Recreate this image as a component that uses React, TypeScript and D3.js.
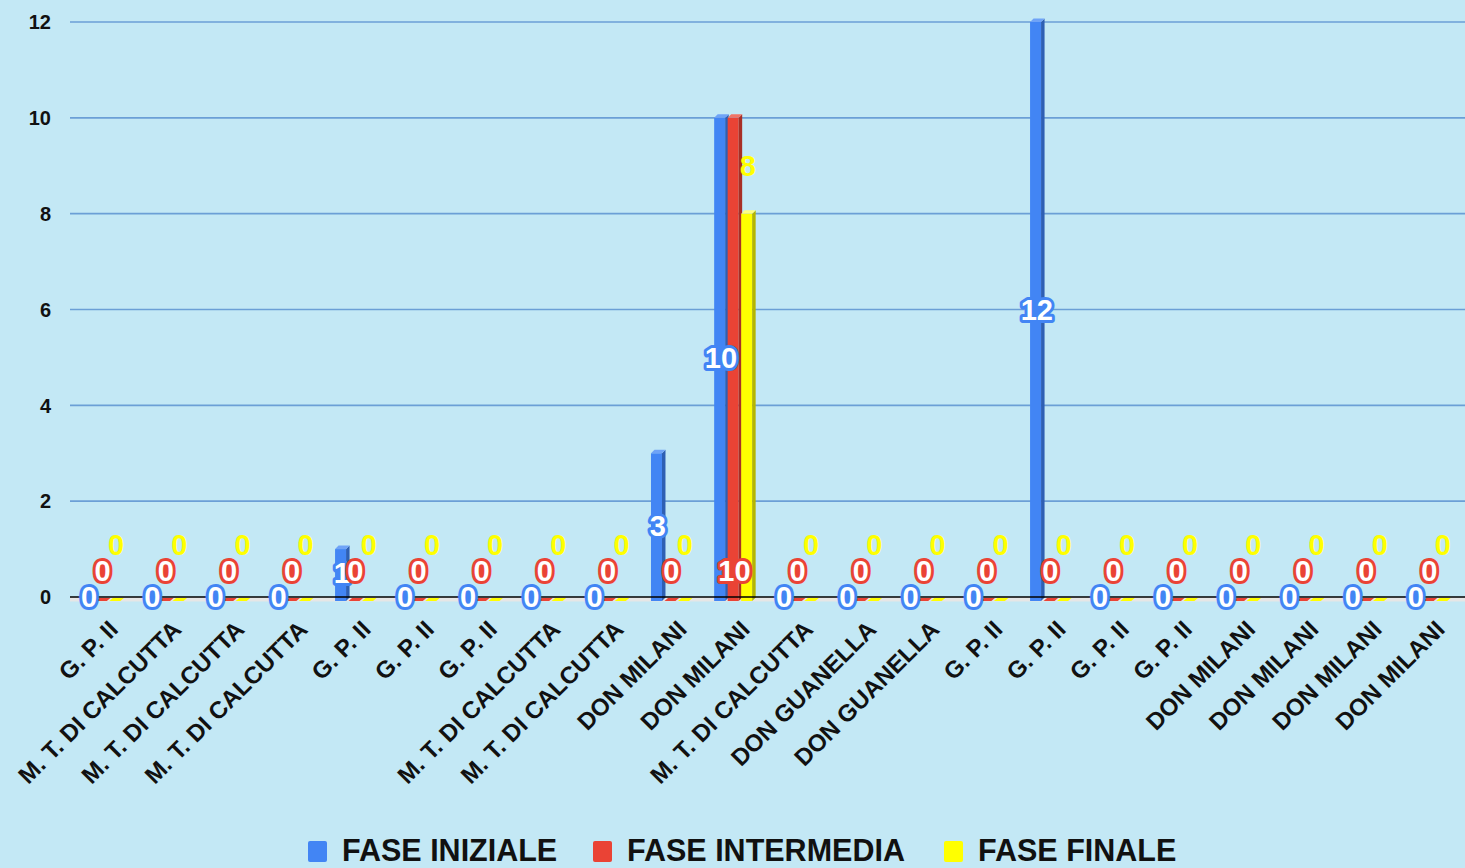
import React from "react";
import * as d3 from "d3";

const categories = [
  "G. P. II", "M. T. DI CALCUTTA", "M. T. DI CALCUTTA", "M. T. DI CALCUTTA",
  "G. P. II", "G. P. II", "G. P. II", "M. T. DI CALCUTTA", "M. T. DI CALCUTTA",
  "DON MILANI", "DON MILANI", "M. T. DI CALCUTTA", "DON GUANELLA", "DON GUANELLA",
  "G. P. II", "G. P. II", "G. P. II", "G. P. II", "DON MILANI", "DON MILANI",
  "DON MILANI", "DON MILANI",
];
const faseIniziale = [0, 0, 0, 0, 1, 0, 0, 0, 0, 3, 10, 0, 0, 0, 0, 12, 0, 0, 0, 0, 0, 0];
const faseIntermedia = [0, 0, 0, 0, 0, 0, 0, 0, 0, 0, 10, 0, 0, 0, 0, 0, 0, 0, 0, 0, 0, 0];
const faseFinale = [0, 0, 0, 0, 0, 0, 0, 0, 0, 0, 8, 0, 0, 0, 0, 0, 0, 0, 0, 0, 0, 0];
const seriesNames = ["FASE INIZIALE", "FASE INTERMEDIA", "FASE FINALE"];
const yTicks = [0, 2, 4, 6, 8, 10, 12];

const W = 1465, H = 868;
const left = 71, right = 1461, top = 22, bottom = 597;
const FONT = "'Liberation Sans', Arial, sans-serif";

const colors = [
  { front: "#4285f4", side: "#2e5fb3", top: "#6fa3f7", stroke: "#4285f4" },
  { front: "#ea4335", side: "#a82f25", top: "#f07466", stroke: "#ea4335" },
  { front: "#ffff00", side: "#b5b500", top: "#ffff80", stroke: "#ffff00" },
];

export default function App() {
  const x = d3.scaleBand<number>().domain(d3.range(categories.length)).range([left, right]).padding(0);
  const y = d3.scaleLinear().domain([0, 12]).range([bottom, top]);
  const series = [faseIniziale, faseIntermedia, faseFinale];
  const bw = 13.5;
  const barW = 11;
  const dx = 3.5, dy = 3.5;

  const labelPos = (s: number, v: number) => {
    if (s === 0) return v / 2;
    if (s === 1) return 0.55;
    return v === 0 ? 1.1 : v + 1;
  };

  return (
    <svg width={W} height={H} style={{ position: "absolute", left: 0, top: 0, display: "block" }}>
      <rect x={0} y={0} width={W} height={H} fill="#c3e8f5" />
      {yTicks.map((t) => (
        <g key={t}>
          {t !== 0 && <line x1={70} x2={W} y1={y(t)} y2={y(t)} stroke="#6b9fd6" strokeWidth={1.6} />}
          <text x={51} y={y(t)} dy="0.36em" textAnchor="end" fontFamily={FONT} fontWeight="bold" fontSize={20} fill="#111">
            {t}
          </text>
        </g>
      ))}
      {/* floor */}
      <rect x={70} y={bottom} width={W - 70} height={4.5} fill="#e6e6e6" />
      {series.map((vals, s) =>
        vals.map((v, i) => {
          const cx = (x(i) as number) + x.bandwidth() / 2 + (s - 1) * bw;
          const x0 = cx - bw / 2;
          const y0 = y(v);
          const c = colors[s];
          return (
            <g key={`${s}-${i}`}>
              {v > 0 && (
                <>
                  <rect x={x0} y={y0} width={barW} height={bottom - y0 + 4} fill={c.front} />
                  <polygon
                    points={`${x0 + barW},${y0} ${x0 + barW + dx},${y0 - dy} ${x0 + barW + dx},${bottom + 4 - dy} ${x0 + barW},${bottom + 4}`}
                    fill={c.side}
                  />
                  <polygon
                    points={`${x0},${y0} ${x0 + dx},${y0 - dy} ${x0 + barW + dx},${y0 - dy} ${x0 + barW},${y0}`}
                    fill={c.top}
                  />
                </>
              )}
              {v === 0 && (
                <polygon
                  points={`${x0},${bottom + 4} ${x0 + dx},${bottom + 1} ${x0 + barW + dx},${bottom + 1} ${x0 + barW},${bottom + 4}`}
                  fill={c.front}
                />
              )}
            </g>
          );
        })
      )}
      <line x1={70} x2={W} y1={bottom} y2={bottom} stroke="#000" strokeWidth={1.5} />
      {series.map((vals, s) =>
        vals.map((v, i) => {
          const cx = (x(i) as number) + x.bandwidth() / 2 + (s - 1) * bw;
          const ly = y(labelPos(s, v));
          const c = colors[s];
          return (
            <text
              key={`l${s}-${i}`}
              x={cx}
              y={ly}
              dy="0.36em"
              textAnchor="middle"
              fontFamily={FONT}
              fontWeight="bold"
              fontSize={29}
              fill={s === 2 ? "#ffff00" : "#ffffff"}
              stroke={s === 2 ? "none" : c.stroke}
              strokeWidth={6}
              strokeLinejoin="round"
              style={{ paintOrder: "stroke" }}
            >
              {v}
            </text>
          );
        })
      )}
      {categories.map((c, i) => {
        const cx = (x(i) as number) + x.bandwidth() / 2;
        return (
          <text
            key={`c${i}`}
            transform={`translate(${cx + 5},${619}) rotate(-45)`}
            textAnchor="end"
            dy="0.7em"
            fontFamily={FONT}
            fontWeight="bold"
            fontSize={24}
            fill="#111"
          >
            {c}
          </text>
        );
      })}
      {seriesNames.map((n, k) => {
        const lx = [308, 593, 944][k];
        return (
          <g key={n}>
            <rect x={lx} y={841} width={19} height={21} rx={2} fill={colors[k].front} />
            <text x={lx + 34} y={861} fontFamily={FONT} fontWeight="bold" fontSize={30.5} fill="#111">
              {n}
            </text>
          </g>
        );
      })}
    </svg>
  );
}
